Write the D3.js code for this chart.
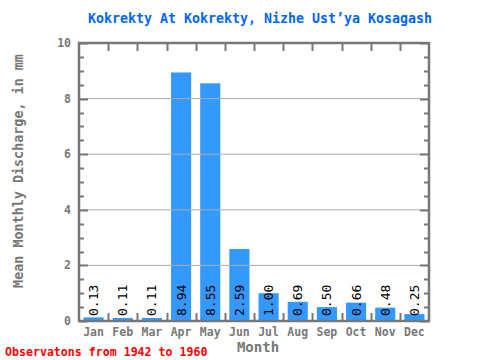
<!DOCTYPE html>
<html><head><meta charset="utf-8">
<script src="https://cdn.jsdelivr.net/npm/d3@7"></script>
<style>body{margin:0;background:#fff}svg{display:block}</style>
</head><body>
<svg id="c" width="480" height="360"></svg>
<script>
const months = ["Jan","Feb","Mar","Apr","May","Jun","Jul","Aug","Sep","Oct","Nov","Dec"];
const values = [0.13,0.11,0.11,8.94,8.55,2.59,1.00,0.69,0.50,0.66,0.48,0.25];
const valueLabels = ["0.13","0.11","0.11","8.94","8.55","2.59","1.00","0.69","0.50","0.66","0.48","0.25"];
const yTicks = [0,2,4,6,8,10];
const titleText = "Kokrekty At Kokrekty, Nizhe Ust’ya Kosagash";
const yTitle = "Mean Monthly Discharge, in mm";
const xTitle = "Month";
const footer = "Observatons from 1942 to 1960";

const svg = d3.select("#c");
const L = 79, R = 429, T = 43, B = 321;
const font = "'DejaVu Sans Mono', monospace";
const x = d3.scaleBand().domain(months).range([L, R]).paddingInner(0.31).paddingOuter(0.155);
const xb = d3.scaleBand().domain(months).range([L, R]);
const y = d3.scaleLinear().domain([0, 10]).range([B, T]);
const axisCol = "#777";

// bars
svg.append("g").selectAll("rect").data(values).join("rect")
  .attr("x", (d,i) => x(months[i])).attr("width", x.bandwidth())
  .attr("y", d => y(d)).attr("height", d => y(0) - y(d))
  .attr("fill", "#3399ff");

// gridlines
svg.append("g").selectAll("line").data(yTicks.filter(t => t > 0 && t < 10)).join("line")
  .attr("x1", L).attr("x2", R).attr("y1", d => y(d)).attr("y2", d => y(d))
  .attr("stroke", "#aaa").attr("stroke-width", 1);

// minor/major ticks left and right
const halfTicks = d3.range(0, 10.01, 0.5);
const tg = svg.append("g").attr("stroke", axisCol).attr("stroke-width", 2);
halfTicks.forEach(t => {
  const major = Math.abs(t % 2) < 1e-9;
  const len = major ? 9 : 5;
  tg.append("line").attr("x1", L).attr("x2", L + len).attr("y1", Math.round(y(t))+0.5).attr("y2", Math.round(y(t))+0.5);
  tg.append("line").attr("x1", R).attr("x2", R - len).attr("y1", Math.round(y(t))+0.5).attr("y2", Math.round(y(t))+0.5);
});
// category ticks top and bottom
months.slice(1).forEach(m => {
  const xx = Math.round(xb(m)) + 0.5;
  tg.append("line").attr("x1", xx).attr("x2", xx).attr("y1", T).attr("y2", T + 8);
  tg.append("line").attr("x1", xx).attr("x2", xx).attr("y1", B).attr("y2", B - 8);
});
// frame
svg.append("rect").attr("x", L).attr("y", T).attr("width", R - L).attr("height", B - T)
  .attr("fill", "none").attr("stroke", axisCol).attr("stroke-width", 2.5);

// value labels
svg.append("g").selectAll("text").data(valueLabels).join("text")
  .attr("transform", (d,i) => `translate(${x(months[i]) + x.bandwidth()/2 + 4.5},${B - 5}) rotate(-90)`)
  .attr("font-family", font).attr("font-size", 13).attr("fill", "#000")
  .text(d => d);

// y tick labels
svg.append("g").selectAll("text").data(yTicks).join("text")
  .attr("x", 71).attr("y", d => y(d) + 4).attr("text-anchor", "end")
  .attr("font-family", font).attr("font-size", 11.5).attr("font-weight", "bold").attr("fill", "#777")
  .text(d => d);

// x tick labels
svg.append("g").selectAll("text").data(months).join("text")
  .attr("x", d => xb(d) + xb.bandwidth()/2).attr("y", 336).attr("text-anchor", "middle")
  .attr("font-family", font).attr("font-size", 11.5).attr("font-weight", "bold").attr("fill", "#777")
  .text(d => d);

// title
svg.append("text").attr("x", 260).attr("y", 23).attr("text-anchor", "middle")
  .attr("font-family", font).attr("font-size", 13.3).attr("font-weight", "bold").attr("fill", "#0066ff")
  .text(titleText);

// axis titles
svg.append("text").attr("x", 258).attr("y", 352).attr("text-anchor", "middle")
  .attr("font-family", font).attr("font-size", 14).attr("font-weight", "bold").attr("fill", "#777")
  .text(xTitle);
svg.append("text").attr("transform", "translate(23,171) rotate(-90)").attr("text-anchor", "middle")
  .attr("font-family", font).attr("font-size", 13.4).attr("font-weight", "bold").attr("fill", "#777")
  .text(yTitle);

// footer
svg.append("text").attr("x", 5).attr("y", 356)
  .attr("font-family", font).attr("font-size", 11.6).attr("font-weight", "bold").attr("fill", "#ff0000")
  .text(footer);
</script>
</body></html>
